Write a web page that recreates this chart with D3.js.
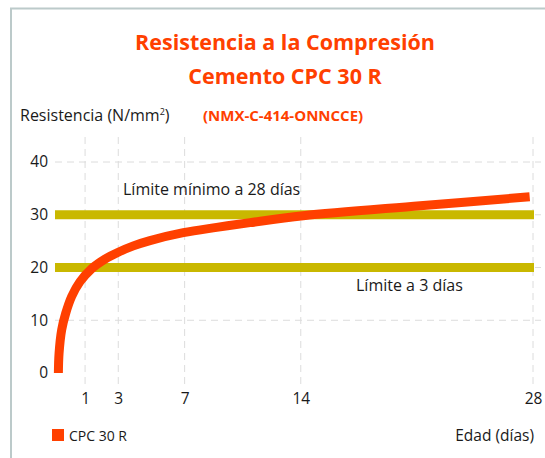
<!DOCTYPE html>
<html>
<head>
<meta charset="utf-8">
<script src="https://cdn.jsdelivr.net/npm/d3@7"></script>
<style>
  body { margin: 0; background: #fff; }
  svg { display: block; }
</style>
</head>
<body>
<svg id="chart" width="545" height="458"></svg>
<script>
// datos
const dayTicks = [1, 3, 7, 14, 28];
const valueTicks = [0, 10, 20, 30, 40];
const gridValues = [10, 20, 30, 40];
const limitValues = [30, 20];
const limitLabels = ["Límite mínimo a 28 días", "Límite a 3 días"];
const curveDays = [-0.61, -0.57, -0.41, -0.17, 0.19, 0.69, 1.4, 2.2, 3.0, 3.91, 4.91, 6.92, 8.93, 10.94, 14.15, 21.2, 27.8];
const curveValues = [0, 3.7, 8.2, 11.3, 14.5, 17.3, 19.8, 21.6, 22.9, 24.1, 25.1, 26.6, 27.6, 28.5, 29.8, 31.7, 33.4];

const red = "#ff4000";
const yellow = "#c9b800";
const font = "'Open Sans', sans-serif";
const ink = "#1a1a1a";

const svg = d3.select("#chart");

const x = d3.scaleLinear().domain([0, 28]).range([68.5, 533]);
const y = d3.scaleLinear().domain([0, 40]).range([373, 162]);

// marco
svg.append("path")
  .attr("d", "M11,458 V8.5 H545")
  .attr("fill", "none")
  .attr("stroke", "#bccaca")
  .attr("stroke-width", 2);

// titulos
svg.append("text")
  .text("Resistencia a la Compresión")
  .attr("x", 285).attr("y", 50)
  .attr("text-anchor", "middle")
  .attr("font-family", font).attr("font-weight", "bold")
  .attr("font-size", 21.5).attr("fill", red);

svg.append("text")
  .text("Cemento CPC 30 R")
  .attr("x", 285).attr("y", 84)
  .attr("text-anchor", "middle")
  .attr("font-family", font).attr("font-weight", "bold")
  .attr("font-size", 21.5).attr("fill", red);

svg.append("text")
  .text("(NMX-C-414-ONNCCE)")
  .attr("x", 203).attr("y", 121)
  .attr("font-family", font).attr("font-weight", "bold")
  .attr("font-size", 15).attr("fill", red);

const yTitle = svg.append("text")
  .attr("x", 20).attr("y", 121)
  .attr("font-family", font)
  .attr("font-size", 16).attr("fill", ink);
yTitle.append("tspan").text("Resistencia (N/mm");
yTitle.append("tspan").text("2").attr("font-size", 9).attr("dy", -6);
yTitle.append("tspan").text(")").attr("dy", 6);

// rejilla
svg.append("g")
  .selectAll("line")
  .data(gridValues)
  .join("line")
  .attr("x1", 55).attr("x2", 541)
  .attr("y1", (d) => y(d)).attr("y2", (d) => y(d))
  .attr("stroke", "#dcdcdc")
  .attr("stroke-dasharray", "7,5");

svg.append("g")
  .selectAll("line")
  .data(dayTicks)
  .join("line")
  .attr("x1", (d) => x(d)).attr("x2", (d) => x(d))
  .attr("y1", 137).attr("y2", 388)
  .attr("stroke", "#dcdcdc")
  .attr("stroke-dasharray", "7,5");

// ejes (solo etiquetas)
const yAxis = svg.append("g")
  .attr("transform", "translate(48,0)")
  .call(d3.axisLeft(y).tickValues(valueTicks).tickSize(0).tickPadding(0));
yAxis.select(".domain").remove();
yAxis.selectAll("text")
  .attr("font-family", font).attr("font-size", 15.5).attr("fill", ink);

const xAxis = svg.append("g")
  .attr("transform", "translate(0,393)")
  .call(d3.axisBottom(x).tickValues(dayTicks).tickSize(0).tickPadding(0));
xAxis.select(".domain").remove();
xAxis.selectAll("text")
  .attr("font-family", font).attr("font-size", 15.5).attr("fill", ink);

// limites
svg.append("g")
  .selectAll("line")
  .data(limitValues)
  .join("line")
  .attr("x1", 55).attr("x2", 534)
  .attr("y1", (d) => y(d)).attr("y2", (d) => y(d))
  .attr("stroke", yellow)
  .attr("stroke-width", 9);

svg.append("text")
  .text(limitLabels[0])
  .attr("x", 123).attr("y", 195)
  .attr("font-family", font).attr("font-size", 16).attr("fill", ink);

svg.append("text")
  .text(limitLabels[1])
  .attr("x", 356).attr("y", 291)
  .attr("font-family", font).attr("font-size", 16).attr("fill", ink);

// curva
const line = d3.line()
  .x((d, i) => x(curveDays[i]))
  .y((d) => y(d))
  .curve(d3.curveCatmullRom.alpha(0.5));

svg.append("path")
  .datum(curveValues)
  .attr("d", line)
  .attr("fill", "none")
  .attr("stroke", red)
  .attr("stroke-width", 9);

// leyenda
svg.append("rect")
  .attr("x", 52).attr("y", 429)
  .attr("width", 12).attr("height", 12)
  .attr("fill", red);

svg.append("text")
  .text("CPC 30 R")
  .attr("x", 69).attr("y", 441)
  .attr("font-family", font).attr("font-size", 14).attr("fill", ink);

svg.append("text")
  .text("Edad (días)")
  .attr("x", 534).attr("y", 441)
  .attr("text-anchor", "end")
  .attr("font-family", font).attr("font-size", 15.5).attr("fill", ink);
</script>
</body>
</html>
